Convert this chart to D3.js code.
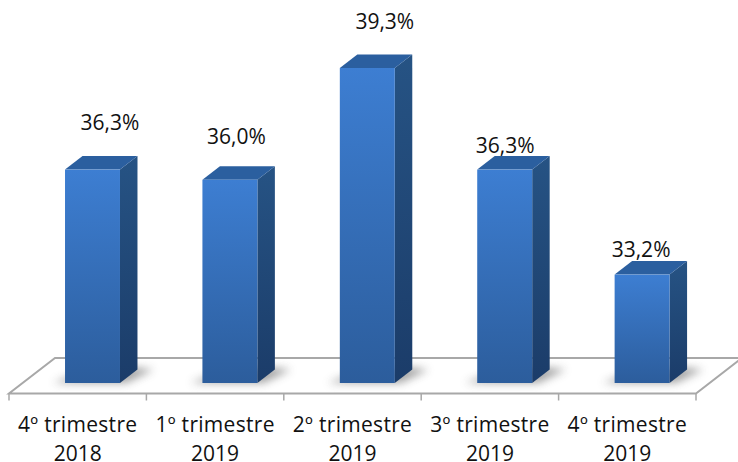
<!DOCTYPE html>
<html>
<head>
<meta charset="utf-8">
<script src="https://cdn.jsdelivr.net/npm/d3@7"></script>
<style>
  html, body { margin: 0; padding: 0; background: #fff; }
  svg { display: block; }
  text { font-family: "Open Sans", sans-serif; fill: #111; }
</style>
</head>
<body>
<svg id="chart"></svg>
<script>
const quarters = ["4º trimestre", "1º trimestre", "2º trimestre", "3º trimestre", "4º trimestre"];
const years = ["2018", "2019", "2019", "2019", "2019"];
const rates = [36.3, 36.0, 39.3, 36.3, 33.2];
const rateLabels = ["36,3%", "36,0%", "39,3%", "36,3%", "33,2%"];

// hand placed offsets of the value labels, measured from the top front of each bar
const labelDx = [17.5, 6.5, 17.5, 0.5, -1];
const labelDy = [-40, -35.5, -39, -16.5, -17.5];

const W = 738, H = 462;
const DX = 17.5, DY = 13.5;   // depth of the bars
const FLOOR = { front: 393.5, back: 358, left: 9, right: 696, skew: 46 };
const FONT_SIZE = 21;

const svg = d3.select("#chart")
  .attr("viewBox", `0 0 ${W} ${H}`)
  .attr("width", W)
  .attr("height", H);

svg.append("rect").attr("width", W).attr("height", H).attr("fill", "#fff");

const slots = d3.range(quarters.length);

const xAxisScale = d3.scaleBand()
  .domain(slots)
  .range([FLOOR.left, FLOOR.right]);

const xBar = d3.scaleBand()
  .domain(slots)
  .range([FLOOR.left + 14.8, FLOOR.right + 14.8])
  .paddingInner(0.6)
  .paddingOuter(0.3);

const y = d3.scaleLinear()
  .domain([30, 40])
  .range([383, 44.3]);

const defs = svg.append("defs");

function addGradient(id, top, bottom) {
  const grad = defs.append("linearGradient")
    .attr("id", id)
    .attr("x1", 0).attr("y1", 0)
    .attr("x2", 0).attr("y2", 1);
  grad.append("stop").attr("offset", "0%").attr("stop-color", top);
  grad.append("stop").attr("offset", "100%").attr("stop-color", bottom);
}

addGradient("front", "#3d7ed2", "#2c5d9c");
addGradient("side", "#265384", "#1b3c69");

defs.append("filter").attr("id", "soft")
  .attr("x", "-30%").attr("y", "-60%")
  .attr("width", "160%").attr("height", "220%")
  .append("feGaussianBlur").attr("stdDeviation", 4);

// floor outline
const floorLine = d3.line();
svg.append("path")
  .attr("d", floorLine([
    [W, FLOOR.back],
    [FLOOR.left + FLOOR.skew, FLOOR.back],
    [FLOOR.left, FLOOR.front],
    [FLOOR.right, FLOOR.front],
    [FLOOR.right + FLOOR.skew, FLOOR.front - 35.5]
  ]))
  .attr("fill", "none")
  .attr("stroke", "#a8a8a8")
  .attr("stroke-width", 2);

// tick marks sit on the band edges
svg.append("g")
  .selectAll("line")
  .data(slots.map(i => xAxisScale(i)).concat(FLOOR.right))
  .join("line")
  .attr("x1", d => d)
  .attr("x2", d => d)
  .attr("y1", FLOOR.front)
  .attr("y2", FLOOR.front + 7)
  .attr("stroke", "#a8a8a8")
  .attr("stroke-width", 1.5);

// shadows under the bars
svg.append("g")
  .selectAll("path")
  .data(slots)
  .join("path")
  .attr("d", i => {
    const x0 = xBar(i), x1 = x0 + xBar.bandwidth(), base = y(30);
    return floorLine([
      [x0 - 12, base],
      [x1 + 6, base],
      [x1 + DX + 16, base - DY],
      [x1 + DX - 4, base - DY - 2],
      [x0 + 4, base - 6]
    ]) + "Z";
  })
  .attr("fill", "#666")
  .attr("opacity", 0.6)
  .attr("filter", "url(#soft)");

const bars = svg.append("g")
  .selectAll("g")
  .data(slots)
  .join("g");

// right face
bars.append("path")
  .attr("d", i => {
    const x1 = xBar(i) + xBar.bandwidth(), top = y(rates[i]), base = y(30);
    return floorLine([[x1, top], [x1 + DX, top - DY], [x1 + DX, base - DY], [x1, base]]) + "Z";
  })
  .attr("fill", "url(#side)");

// top face
bars.append("path")
  .attr("d", i => {
    const x0 = xBar(i), x1 = x0 + xBar.bandwidth(), top = y(rates[i]);
    return floorLine([[x0, top], [x0 + DX, top - DY], [x1 + DX, top - DY], [x1, top]]) + "Z";
  })
  .attr("fill", "#2b5f9f");

// front face
bars.append("rect")
  .attr("x", i => xBar(i))
  .attr("y", i => y(rates[i]))
  .attr("width", xBar.bandwidth())
  .attr("height", i => y(30) - y(rates[i]))
  .attr("fill", "url(#front)");

svg.append("g")
  .selectAll("text")
  .data(slots)
  .join("text")
  .attr("x", i => xBar(i) + xBar.bandwidth() / 2 + labelDx[i])
  .attr("y", i => y(rates[i]) + labelDy[i])
  .attr("text-anchor", "middle")
  .attr("font-size", FONT_SIZE)
  .text(i => rateLabels[i]);

// two line category labels
const cats = svg.append("g")
  .selectAll("text")
  .data(slots)
  .join("text")
  .attr("text-anchor", "middle")
  .attr("font-size", FONT_SIZE);

cats.append("tspan")
  .attr("x", i => xAxisScale(i) + xAxisScale.bandwidth() / 2)
  .attr("y", 432)
  .attr("letter-spacing", 0.3)
  .text(i => quarters[i]);

cats.append("tspan")
  .attr("x", i => xAxisScale(i) + xAxisScale.bandwidth() / 2)
  .attr("y", 460.5)
  .text(i => years[i]);
</script>
</body>
</html>
